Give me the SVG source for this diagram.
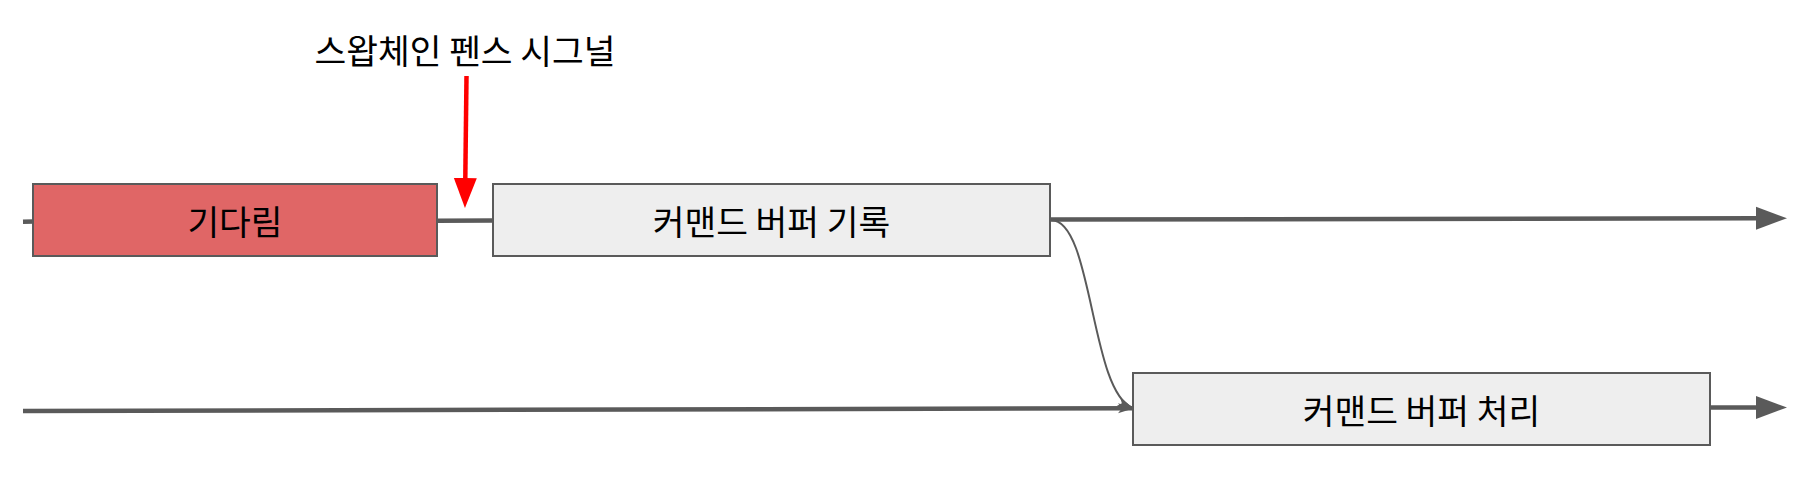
<svg xmlns="http://www.w3.org/2000/svg" width="1808" height="488" viewBox="0 0 1808 488">
  <style>
    .box { stroke: #5a5a5a; stroke-width: 2; }
    .wait { fill: #e06666; }
    .task { fill: #eeeeee; }
    .label { font-family: "Noto Sans CJK KR", "Noto Sans", sans-serif; font-size: 34.5px; fill: #000000; text-anchor: middle; dominant-baseline: central; }
    .flow { fill: none; stroke: #5a5a5a; stroke-width: 4.5; }
    .thin { fill: none; stroke: #5a5a5a; stroke-width: 2; }
    .signal { fill: none; stroke: #ff0000; stroke-width: 4.5; }
  </style>
  <defs>
    <marker id="bigArrow" markerUnits="userSpaceOnUse" markerWidth="32" markerHeight="24" viewBox="0 0 32 24" refX="1" refY="12" orient="auto">
      <path d="M0,0.5 L31,12 L0,23.5 z" fill="#5a5a5a"/>
    </marker>
    <marker id="redArrow" markerUnits="userSpaceOnUse" markerWidth="31" markerHeight="24" viewBox="0 0 31 24" refX="1" refY="12" orient="auto">
      <path d="M0,0.5 L30,12 L0,23.5 z" fill="#ff0000"/>
    </marker>
    <marker id="smallArrow" markerUnits="userSpaceOnUse" markerWidth="16" markerHeight="12" viewBox="0 0 16 12" refX="15" refY="6" orient="auto">
      <path d="M0,1 L16,6 L0,11 L4,6 z" fill="#5a5a5a"/>
    </marker>
  </defs>

  <g id="connectors">
    <path class="flow" d="M23,221.7 L34,221.5"/>
    <path class="flow" d="M437,220.8 L494,220.5"/>
    <path class="flow" d="M1050,219.6 L1757,218.3" marker-end="url(#bigArrow)"/>
    <path class="flow" d="M23,411 L1133,408.2" marker-end="url(#smallArrow)"/>
    <path class="flow" d="M1710,407.5 L1757,407.5" marker-end="url(#bigArrow)"/>
    <path class="thin" d="M1051,220 C1093,220 1090,390 1132,407.5" marker-end="url(#smallArrow)"/>
    <path class="signal" d="M466.5,76 L465.3,179" marker-end="url(#redArrow)"/>
  </g>

  <g id="title">
    <text class="label" x="465" y="49">스왑체인 펜스 시그널</text>
  </g>

  <g id="node-wait">
    <rect class="box wait" x="33" y="184" width="404" height="72"/>
    <text class="label" x="235" y="220">기다림</text>
  </g>

  <g id="node-record">
    <rect class="box task" x="493" y="184" width="557" height="72"/>
    <text class="label" x="771.5" y="220">커맨드 버퍼 기록</text>
  </g>

  <g id="node-process">
    <rect class="box task" x="1133" y="373" width="577" height="72"/>
    <text class="label" x="1421.5" y="409">커맨드 버퍼 처리</text>
  </g>
</svg>
